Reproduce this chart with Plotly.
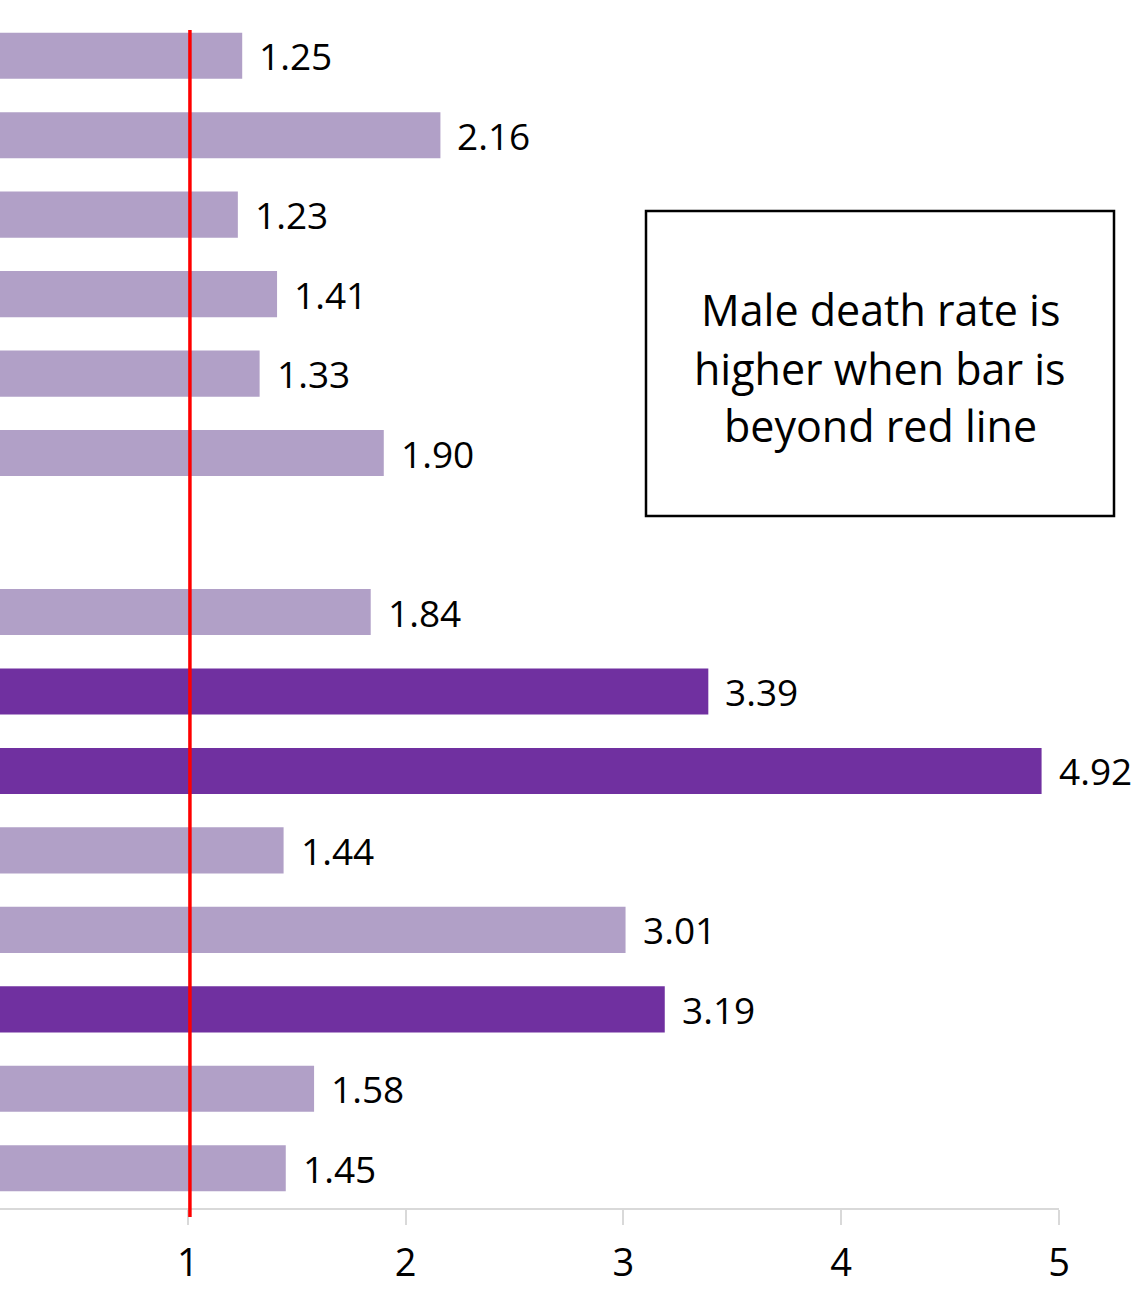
import plotly.graph_objects as go

# Data (top to bottom); None = empty row
categories = ["r1", "r2", "r3", "r4", "r5", "r6", "gap", "r7", "r8", "r9", "r10", "r11", "r12", "r13", "r14"]
values = [1.25, 2.16, 1.23, 1.41, 1.33, 1.90, None, 1.84, 3.39, 4.92, 1.44, 3.01, 3.19, 1.58, 1.45]
highlight = [False, False, False, False, False, False, False, False, True, True, False, False, True, False, False]
x_ticks = [1, 2, 3, 4, 5]
box_lines = ["Male death rate is", "higher when bar is", "beyond red line"]

LIGHT = "#B1A0C7"
DARK = "#7030A0"
FONT = "Open Sans"

colors = [DARK if h else LIGHT for h in highlight]

fig = go.Figure()
fig.add_trace(go.Bar(
    y=categories, x=[v if v is not None else 0 for v in values], orientation="h",
    marker=dict(color=colors, line=dict(width=0)),
    width=0.58, hoverinfo="skip", showlegend=False,
))

annotations = []
for c, v in zip(categories, values):
    if v is None:
        continue
    annotations.append(dict(
        x=v, y=c, xref="x", yref="y", text=f"{v:.2f}", showarrow=False,
        xanchor="left", yanchor="middle", xshift=15,
        font=dict(family=FONT, size=37, color="#000000"),
    ))

# text box lines
line_y = [310, 368, 426]
for t, py in zip(box_lines, line_y):
    annotations.append(dict(
        x=(880) / 1059, y=(1208 - py) / 1192, xref="paper", yref="paper",
        text=t, showarrow=False, xanchor="center", yanchor="middle",
        font=dict(family=FONT, size=43, color="#000000"),
    ))

shapes = [
    dict(type="line", xref="x", yref="paper", x0=1.01, x1=1.01,
         y0=-9 / 1192, y1=(1208 - 30) / 1192,
         line=dict(color="#FF0000", width=3.5)),
    dict(type="rect", xref="paper", yref="paper",
         x0=646 / 1059, x1=1114 / 1059,
         y0=(1208 - 516) / 1192, y1=(1208 - 211) / 1192,
         line=dict(color="#000000", width=2.5), fillcolor="rgba(0,0,0,0)"),
]

fig.update_layout(
    width=1140, height=1290,
    margin=dict(l=0, r=81, t=16, b=82),
    paper_bgcolor="white", plot_bgcolor="white",
    font=dict(family=FONT, color="#000000"),
    annotations=annotations, shapes=shapes,
    bargap=0.42,
)
fig.update_xaxes(
    range=[0.138, 5], tickvals=x_ticks, ticktext=[str(t) for t in x_ticks],
    showgrid=False, zeroline=False, showline=True, linecolor="#D9D9D9", linewidth=1.5,
    ticks="outside", ticklen=15, tickcolor="#D9D9D9", tickwidth=1.5,
    tickfont=dict(family=FONT, size=38, color="#000000"),
    ticklabelstandoff=6, automargin=False,
)
fig.update_yaxes(
    categoryorder="array", categoryarray=categories,
    showticklabels=False, showgrid=False, zeroline=False,
    showline=False, ticks="", automargin=False,
)
fig.update_yaxes(autorange=False, range=[14.5, -0.5])

fig.write_html("out.html")
